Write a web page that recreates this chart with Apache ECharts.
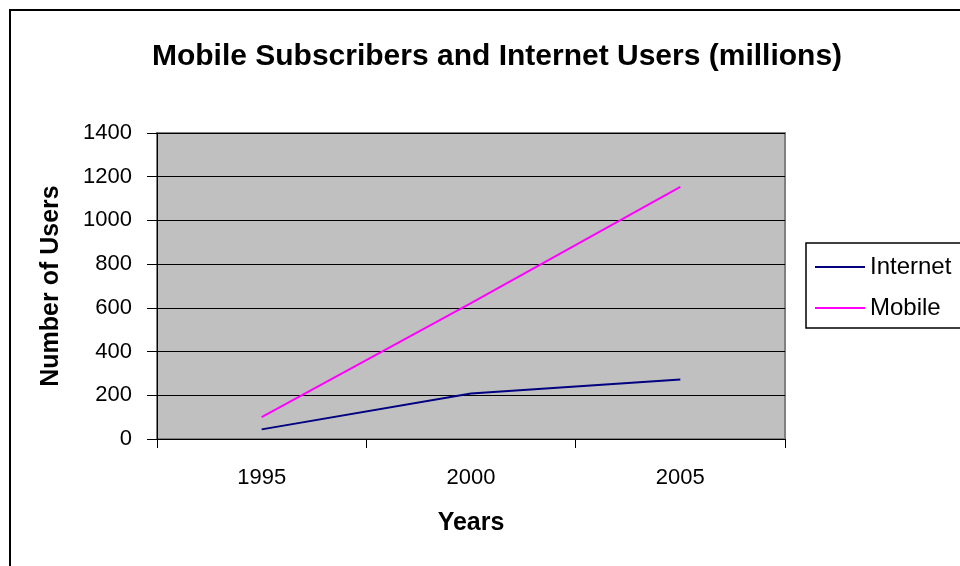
<!DOCTYPE html>
<html>
<head>
<meta charset="utf-8">
<script src="https://cdn.jsdelivr.net/npm/echarts@6/dist/echarts.min.js"></script>
<style>html,body{margin:0;padding:0;background:#fff}#c{width:960px;height:566px}</style>
</head>
<body>
<div id="c"></div>
<script>
var years = ['1995', '2000', '2005'];
var internet = [44, 208, 272];
var mobile = [100, 622, 1153];
var yTicks = [0, 1400, 200];

var chart = echarts.init(document.getElementById('c'), null, {renderer: 'canvas'});
var font = 'Liberation Sans, Arial, sans-serif';
chart.setOption({
  animation: false,
  backgroundColor: '#ffffff',
  graphic: [{
    type: 'rect', shape: {x: 10, y: 10, width: 970, height: 580},
    style: {fill: 'none', stroke: '#000', lineWidth: 2}, z: -1
  }],
  title: {
    text: 'Mobile Subscribers and Internet Users (millions)',
    left: 492, top: 37, textAlign: 'center',
    textStyle: {fontFamily: font, fontSize: 30, fontWeight: 'bold', color: '#000'}
  },
  grid: {
    left: 157, top: 133, right: 175, bottom: 127,
    show: true, backgroundColor: '#c0c0c0', borderColor: '#808080', borderWidth: 2
  },
  legend: {
    orient: 'vertical', left: 806, top: 243,
    data: ['Internet', 'Mobile'],
    icon: 'rect', itemWidth: 50, itemHeight: 2, itemGap: 17,
    borderColor: '#000', borderWidth: 1.5,
    padding: [12, 40, 8, 9],
    textStyle: {fontFamily: font, fontSize: 24, color: '#000'}
  },
  xAxis: {
    type: 'category', data: years, boundaryGap: true,
    name: 'Years', nameLocation: 'middle', nameGap: 72,
    nameTextStyle: {fontFamily: font, fontSize: 25, fontWeight: 'bold', color: '#000'},
    axisLine: {lineStyle: {color: '#000', width: 1}},
    axisTick: {show: true, length: 9, lineStyle: {color: '#000'}},
    axisLabel: {fontFamily: font, fontSize: 22, color: '#000', margin: 28},
    splitLine: {show: false}
  },
  yAxis: {
    type: 'value', min: yTicks[0], max: yTicks[1], interval: yTicks[2],
    name: 'Number of Users', nameLocation: 'middle', nameGap: 93,
    nameTextStyle: {fontFamily: font, fontSize: 25, fontWeight: 'bold', color: '#000'},
    axisLine: {show: true, lineStyle: {color: '#000', width: 1}},
    axisTick: {show: true, length: 10, lineStyle: {color: '#000'}},
    axisLabel: {fontFamily: font, fontSize: 22, color: '#000', margin: 25,
                formatter: function (v) { return String(v); }},
    splitLine: {show: true, lineStyle: {color: '#000', width: 1}}
  },
  series: [
    {name: 'Internet', type: 'line', data: internet, symbol: 'none',
     lineStyle: {color: '#000080', width: 2}, itemStyle: {color: '#000080'}},
    {name: 'Mobile', type: 'line', data: mobile, symbol: 'none',
     lineStyle: {color: '#ff00ff', width: 2}, itemStyle: {color: '#ff00ff'}}
  ]
});
</script>
</body>
</html>
